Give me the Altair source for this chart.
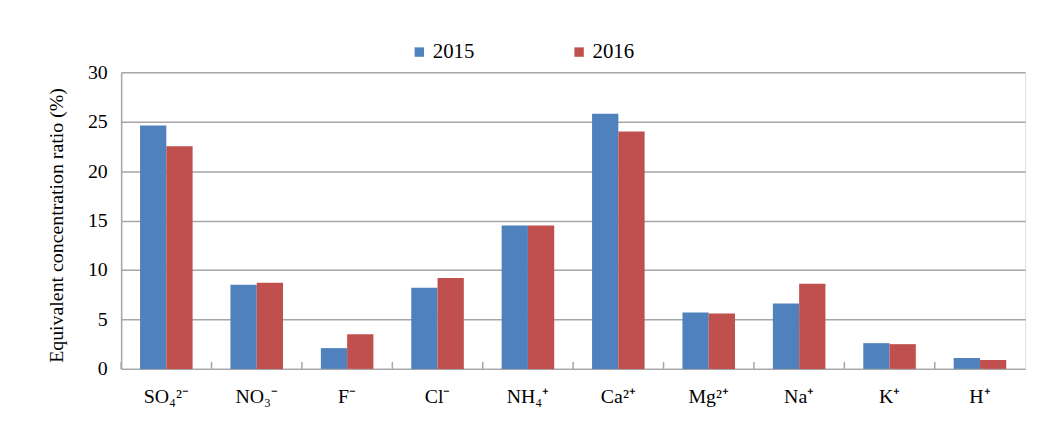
import altair as alt
import pandas as pd

ions = ["SO₄²⁻", "NO₃⁻", "F⁻", "Cl⁻", "NH₄⁺", "Ca²⁺", "Mg²⁺", "Na⁺", "K⁺", "H⁺"]
years = ["2015", "2016"]
v2015 = [24.6, 8.5, 2.1, 8.2, 14.5, 25.8, 5.7, 6.6, 2.6, 1.1]
v2016 = [22.5, 8.7, 3.5, 9.2, 14.5, 24.0, 5.6, 8.6, 2.5, 0.9]
colors = ["#4f81bd", "#c0504d"]
y_ticks = [0, 5, 10, 15, 20, 25, 30]

FONT = "Liberation Serif"
GREY = "#a6a6a6"

df = pd.DataFrame({
    "ion": ions * 2,
    "year": [years[0]] * len(ions) + [years[1]] * len(ions),
    "value": v2015 + v2016,
})
cats = pd.DataFrame({"ion": ions})

x_scale = alt.Scale(paddingInner=0, paddingOuter=0)

bars = alt.Chart(df).mark_bar().encode(
    x=alt.X("ion:N", sort=ions, scale=x_scale, title=None,
            axis=alt.Axis(labelAngle=0, labelFont=FONT, labelFontSize=20,
                          labelColor="#000000", labelPadding=18, labelBaseline="top",
                          ticks=False, domainColor=GREY, domainWidth=1.5)),
    xOffset=alt.XOffset("year:N", scale=alt.Scale(paddingOuter=0.72, paddingInner=0)),
    y=alt.Y("value:Q", scale=alt.Scale(domain=[0, 30], nice=False),
            title="Equivalent concentration ratio (%)",
            axis=alt.Axis(values=y_ticks, ticks=False, tickSize=0, labelFont=FONT,
                          labelFontSize=20, labelColor="#000000", labelPadding=14,
                          grid=True, gridColor=GREY, gridWidth=1.5,
                          domainColor=GREY, domainWidth=1.5,
                          titleFont=FONT, titleFontSize=20, titleFontWeight="normal",
                          titleColor="#000000", titleAngle=270, titleX=-65, titleY=154,
                          titleAlign="center", titleBaseline="middle")),
    color=alt.Color("year:N", scale=alt.Scale(domain=years, range=colors),
                    legend=alt.Legend(title=None, orient="none", legendX=290, legendY=-31,
                                      direction="horizontal", symbolType="square",
                                      symbolSize=90, symbolStrokeWidth=0,
                                      labelFont=FONT, labelFontSize=21, labelColor="#000000",
                                      labelOffset=3, columnPadding=95)),
)

ticks = alt.Chart(cats).mark_rule(color=GREY, strokeWidth=1.5).encode(
    x=alt.X("ion:N", sort=ions, bandPosition=0, scale=x_scale, title=None),
    y=alt.value(299),
    y2=alt.value(292),
)

chart = alt.layer(bars, ticks).properties(
    width=911,
    height=299,
    autosize=alt.AutoSizeParams(type="none"),
    padding={"left": 114, "top": 63, "right": 20, "bottom": 70},
).configure_view(stroke=GREY, strokeWidth=1.5).configure(background="white", font=FONT)

chart.save("out.html", embed_options={"renderer": "svg", "actions": False})
